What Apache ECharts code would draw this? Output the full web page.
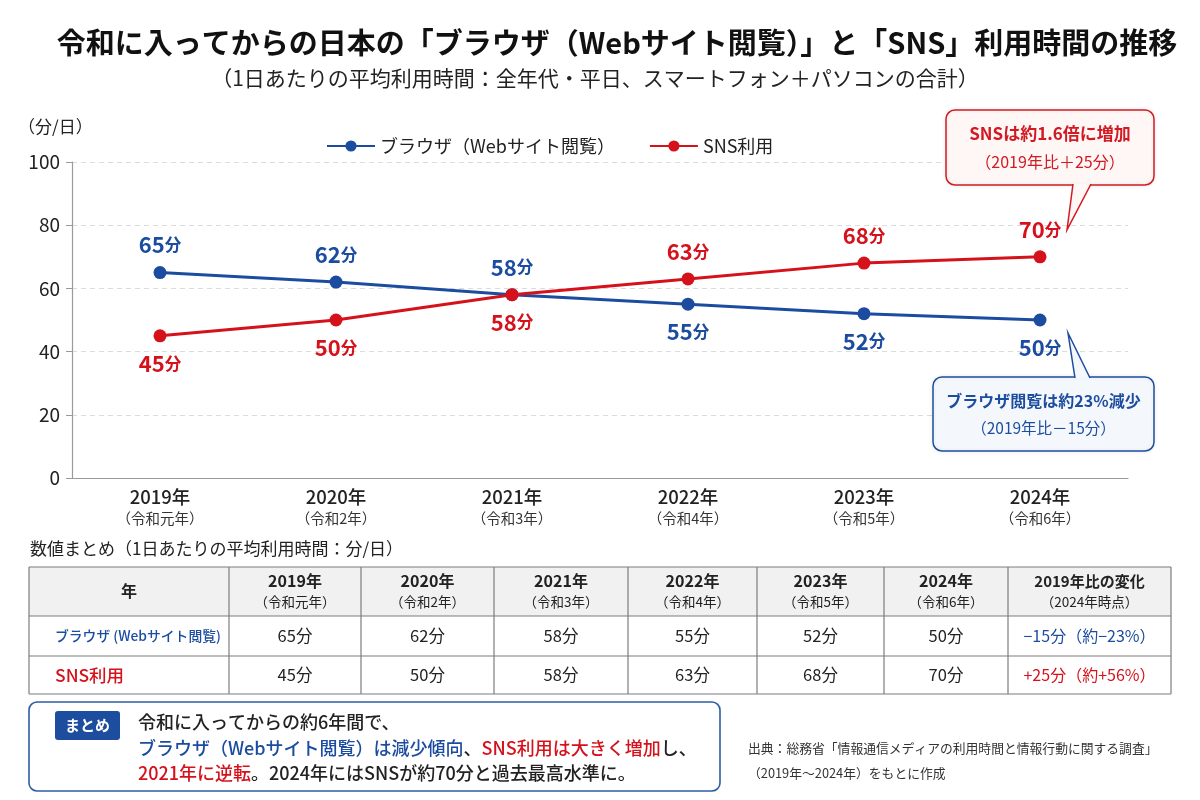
<!DOCTYPE html>
<html><head><meta charset="utf-8">
<script src="https://cdn.jsdelivr.net/npm/echarts@6/dist/echarts.min.js"></script>
<style>html,body{margin:0;padding:0;background:#fff}#c{width:1200px;height:800px}</style>
</head><body><div id="c"></div>
<script>
// ---- data ----
const years = ['2019年','2020年','2021年','2022年','2023年','2024年'];
const eras = ['（令和元年）','（令和2年）','（令和3年）','（令和4年）','（令和5年）','（令和6年）'];
const browserName = 'ブラウザ（Webサイト閲覧）';
const browserShortName = 'ブラウザ (Webサイト閲覧)';
const snsName = 'SNS利用';
const browserValues = [65, 62, 58, 55, 52, 50];
const snsValues = [45, 50, 58, 63, 68, 70];
const yMin = 0, yMax = 100, yInterval = 20;

// ---- style ----
const FONT = '"Noto Sans CJK JP","Noto Sans",sans-serif';
const BLUE = '#1b4c9f';
const RED = '#d5121b';
const INK = '#222';

const chart = echarts.init(document.getElementById('c'), null, {renderer: 'canvas'});

function labelRich(color) {
  return {
    n: {fontSize: 22, fontWeight: 'bold', color: color, fontFamily: FONT},
    u: {fontSize: 16.5, fontWeight: 'bold', color: color, fontFamily: FONT}
  };
}
function seriesData(vals, other, isBlue) {
  return vals.map((v, i) => {
    const above = isBlue ? v >= other[i] : v > other[i];
    return {value: v, label: {position: above ? 'top' : 'bottom'}};
  });
}

function T(text, x, y, o) {
  o = o || {};
  return {
    type: 'text', silent: true, z: o.z || 10,
    style: {
      text: text, x: x, y: y,
      align: o.align || 'left', verticalAlign: o.va || 'middle',
      fontSize: o.size || 14, fontWeight: o.weight || 'normal',
      fontFamily: FONT, fill: o.color || INK, rich: o.rich
    }
  };
}
function R(color, size, weight) {
  return {fontSize: size, fontWeight: weight || 500, fill: color, color: color, fontFamily: FONT};
}

// ---- table built from the arrays ----
const colX = [29, 229, 361, 494, 628, 757, 884, 1008, 1171];
const rowY = [567, 616, 656, 694];
function changeText(vals) {
  const d = vals[vals.length - 1] - vals[0];
  const p = Math.round(d / vals[0] * 100);
  const s = d < 0 ? '−' : '+';
  return s + Math.abs(d) + '分（約' + s + Math.abs(p) + '%）';
}
function buildTable() {
  const g = [];
  g.push({type: 'rect', silent: true, shape: {x: colX[0], y: rowY[0], width: colX[8] - colX[0], height: rowY[1] - rowY[0]}, style: {fill: '#f1f1f1'}});
  rowY.forEach(y => g.push({type: 'line', silent: true, shape: {x1: colX[0], y1: y, x2: colX[8], y2: y}, style: {stroke: '#7d7d7d', lineWidth: 1.2}}));
  colX.forEach(x => g.push({type: 'line', silent: true, shape: {x1: x, y1: rowY[0], x2: x, y2: rowY[3]}, style: {stroke: '#7d7d7d', lineWidth: 1.2}}));
  const cx = i => (colX[i] + colX[i + 1]) / 2;
  g.push(T('年', cx(0), 591, {align: 'center', size: 16, weight: 'bold'}));
  years.forEach((y, i) => {
    g.push(T(y, cx(i + 1), 581, {align: 'center', size: 16, weight: 'bold'}));
    g.push(T(eras[i], cx(i + 1), 602, {align: 'center', size: 13.5}));
  });
  g.push(T('2019年比の変化', cx(7), 581, {align: 'center', size: 15, weight: 'bold'}));
  g.push(T('（2024年時点）', cx(7), 602, {align: 'center', size: 13.5}));
  const r1 = 636, r2 = 675;
  g.push(T(browserShortName, 55, r1, {size: 13.8, color: BLUE, weight: 500}));
  g.push(T(snsName, 55, r2, {size: 17.5, color: RED, weight: 500}));
  browserValues.forEach((v, i) => g.push(T(v + '分', cx(i + 1), r1, {align: 'center', size: 16.5})));
  snsValues.forEach((v, i) => g.push(T(v + '分', cx(i + 1), r2, {align: 'center', size: 16.5})));
  g.push(T(changeText(browserValues), cx(7), r1, {align: 'center', size: 16, color: BLUE}));
  g.push(T(changeText(snsValues), cx(7), r2, {align: 'center', size: 16, color: RED}));
  return g;
}

const S = 18;
const staticGraphics = [
  T('令和に入ってからの日本の「ブラウザ（Webサイト閲覧）」と「SNS」利用時間の推移', 617, 43, {align: 'center', size: 29, weight: 'bold', color: '#111'}),
  T('（1日あたりの平均利用時間：全年代・平日、スマートフォン＋パソコンの合計）', 595, 78, {align: 'center', size: 21}),
  T('（分/日）', 18, 127, {size: 17}),
  T('数値まとめ（1日あたりの平均利用時間：分/日）', 30, 549, {size: 17}),
  // summary box
  {type: 'rect', silent: true, shape: {x: 29, y: 702, width: 691, height: 89, r: 8}, style: {fill: '#fff', stroke: '#2d5ca6', lineWidth: 1.6}},
  {type: 'rect', silent: true, shape: {x: 55, y: 711, width: 65, height: 29, r: 3}, style: {fill: '#1d4d9e'}},
  T('まとめ', 87.5, 725.5, {align: 'center', size: 15, weight: 'bold', color: '#fff'}),
  T('令和に入ってからの約6年間で、', 138, 722, {size: S, weight: 500}),
  T('{b|ブラウザ（Webサイト閲覧）は減少傾向}{k|、}{r|SNS利用は大きく増加}{k|し、}', 138, 748, {size: S, rich: {
    b: R(BLUE, S), k: R(INK, S), r: R(RED, S)}}),
  T('{r|2021年に逆転}{k|。2024年にはSNSが約70分と過去最高水準に。}', 138, 773, {size: S, rich: {
    k: R(INK, S), r: R(RED, S)}}),
  T('出典：総務省「情報通信メディアの利用時間と情報行動に関する調査」', 748, 748, {size: 12.8, color: '#333'}),
  T('（2019年～2024年）をもとに作成', 748, 773, {size: 12.8, color: '#333'})
].concat(buildTable());

const option = {
  backgroundColor: '#fff',
  animation: false,
  textStyle: {fontFamily: FONT},
  grid: {left: 72, right: 72, top: 162, bottom: 322, containLabel: false},
  legend: {
    top: 132, left: 321, itemWidth: 48, itemHeight: 14, itemGap: 34,
    textStyle: {fontSize: 18, color: INK, fontFamily: FONT},
    data: [browserName, snsName]
  },
  xAxis: {
    type: 'category', data: years, boundaryGap: true,
    axisLine: {lineStyle: {color: '#9a9a9a', width: 1.2}},
    axisTick: {alignWithLabel: true, length: 5, lineStyle: {color: '#9a9a9a'}},
    axisLabel: {
      margin: 8, interval: 0,
      formatter: (v, i) => '{y|' + v + '}\n{r|' + eras[i] + '}',
      rich: {
        y: {fontSize: 18.5, color: INK, fontWeight: 500, lineHeight: 22, fontFamily: FONT},
        r: {fontSize: 14.5, color: '#333', lineHeight: 21, fontFamily: FONT}
      }
    }
  },
  yAxis: {
    type: 'value', min: yMin, max: yMax, interval: yInterval,
    axisLine: {show: true, lineStyle: {color: '#9a9a9a', width: 1.2}},
    axisTick: {show: true, length: 6, lineStyle: {color: '#9a9a9a'}},
    axisLabel: {fontSize: 19, color: INK, margin: 12, fontFamily: FONT},
    splitLine: {lineStyle: {color: '#dcdcdc', type: [5, 4]}}
  },
  series: [
    {
      name: browserName, type: 'line', data: seriesData(browserValues, snsValues, true),
      symbol: 'circle', symbolSize: 13, color: BLUE,
      lineStyle: {width: 3, color: BLUE}, itemStyle: {color: BLUE},
      label: {show: true, distance: 10, formatter: p => '{n|' + p.value + '}{u|分}', rich: labelRich(BLUE)},
      z: 3
    },
    {
      name: snsName, type: 'line', data: seriesData(snsValues, browserValues, false),
      symbol: 'circle', symbolSize: 13, color: RED,
      lineStyle: {width: 3, color: RED}, itemStyle: {color: RED},
      label: {show: true, distance: 10, formatter: p => '{n|' + p.value + '}{u|分}', rich: labelRich(RED)},
      z: 4
    }
  ],
  graphic: staticGraphics
};
chart.setOption(option);

// ---- callouts anchored to the last points ----
const last = years.length - 1;
const pS = chart.convertToPixel({seriesIndex: 1}, [last, snsValues[last]]);
const pB = chart.convertToPixel({seriesIndex: 0}, [last, browserValues[last]]);

function callout(box, tip, base1, base2, color, fill, line1, line2, s1, s2, l1y, l2y) {
  const g = [];
  g.push({type: 'rect', silent: true, z: 20, shape: {x: box.x, y: box.y, width: box.w, height: box.h, r: 9}, style: {fill: fill, stroke: color, lineWidth: 1.5, shadowBlur: 4, shadowColor: 'rgba(0,0,0,0.08)'}});
  g.push({type: 'polygon', silent: true, z: 21, shape: {points: [base1, tip, base2]}, style: {fill: fill}});
  g.push({type: 'polyline', silent: true, z: 22, shape: {points: [base1, tip, base2]}, style: {stroke: color, lineWidth: 1.5, fill: null}});
  const cx = box.x + box.w / 2;
  g.push(T(line1, cx, box.y + l1y, {align: 'center', size: s1, weight: 'bold', color: color, z: 23}));
  g.push(T(line2, cx, box.y + l2y, {align: 'center', size: s2, color: color, z: 23}));
  return g;
}
const redBox = {x: 946, y: 110, w: 208, h: 75};
const blueBox = {x: 933, y: 377, w: 221, h: 74};
const redTip = [pS[0] + 27, pS[1] - 27];
const blueTip = [pB[0] + 28, pB[1] + 13];
const extra = [].concat(
  callout(redBox, redTip, [1073, redBox.y + redBox.h - 1], [1091, redBox.y + redBox.h - 1], '#d11a22', '#fff6f6',
    'SNSは約1.6倍に増加', '（2019年比＋25分）', 17, 16, 24, 52),
  callout(blueBox, blueTip, [1075, blueBox.y + 1], [1090, blueBox.y + 1], '#1d4d9e', '#f4f7fc',
    'ブラウザ閲覧は約23%減少', '（2019年比－15分）', 16, 15.5, 24, 51)
);
chart.setOption({graphic: staticGraphics.concat(extra)});
</script></body></html>
